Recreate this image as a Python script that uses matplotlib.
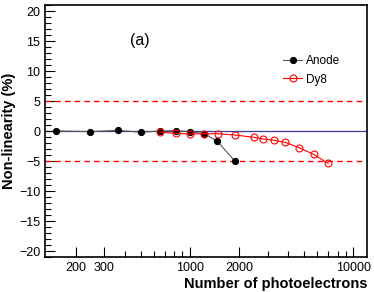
import numpy as np
import matplotlib
matplotlib.use("Agg")
import matplotlib.pyplot as plt
from matplotlib.ticker import FixedLocator, NullFormatter, MultipleLocator

plt.rcParams['font.family'] = ['Liberation Sans', 'DejaVu Sans']

# data
anode_npe = [151, 246, 362, 503, 655, 818, 1000, 1223, 1470, 1888]
anode_nl = [0.0, -0.1, 0.1, -0.2, 0.0, 0.05, -0.1, -0.45, -1.7, -5.05]
dy8_npe = [655, 818, 1000, 1223, 1478, 1888, 2466, 2812, 3259, 3840, 4668, 5713, 7000]
dy8_nl = [-0.17, -0.4, -0.5, -0.45, -0.45, -0.67, -1.05, -1.33, -1.55, -1.9, -2.8, -3.9, -5.4]
xtick_vals = [200, 300, 1000, 2000, 10000]

fig = plt.figure(figsize=(3.74, 2.92), dpi=100)
ax = fig.add_axes([45 / 374, 35 / 292, 322 / 374, 252 / 292])

ax.axhline(0, color='#3c3ca0', lw=0.9, zorder=1)
ax.axhline(5, color='red', ls='--', lw=1.0, dashes=(4, 3))
ax.axhline(-5, color='red', ls='--', lw=1.0, dashes=(4, 3))

ax.plot(anode_npe, anode_nl, color='#555555', lw=0.8, marker='o', ms=4.2,
        mfc='black', mec='black', label='Anode', zorder=3)
ax.plot(dy8_npe, dy8_nl, color='red', lw=0.8, marker='o', ms=5,
        mfc='none', mec='red', mew=0.8, label='Dy8', zorder=4)

ax.set_xscale('log')
ax.set_xlim(130, 12100)
ax.set_ylim(-21, 21)

ax.xaxis.set_major_locator(FixedLocator(xtick_vals))
ax.set_xticklabels([str(v) for v in xtick_vals])
minor = [v for d in (100, 1000) for v in np.arange(2, 10) * d if v not in xtick_vals]
ax.xaxis.set_minor_locator(FixedLocator(minor))
ax.xaxis.set_minor_formatter(NullFormatter())
ax.yaxis.set_major_locator(MultipleLocator(5))
ax.yaxis.set_minor_locator(MultipleLocator(1))

ax.tick_params(which='both', direction='in', top=False, right=False, labelsize=9)
ax.tick_params(which='major', length=7, width=0.8)
ax.tick_params(which='minor', length=4, width=0.8)
for s in ax.spines.values():
    s.set_linewidth(1.2)

ax.set_ylabel('Non-linearity (%)', fontsize=10.5, fontweight='bold', labelpad=2)
ax.set_xlabel('Number of photoelectrons', fontsize=10.5, fontweight='bold', loc='right', labelpad=2)

ax.text(0.265, 0.84, '(a)', transform=ax.transAxes, fontsize=11.5)

ax.legend(loc='upper left', bbox_to_anchor=(0.725, 0.82), frameon=False, fontsize=8.5,
          handlelength=1.6, handletextpad=0.3, labelspacing=0.55, borderaxespad=0)

fig.savefig('out.png', dpi=100)
